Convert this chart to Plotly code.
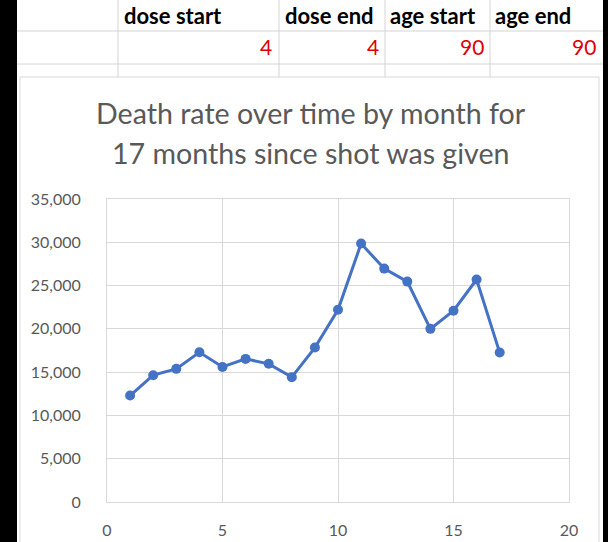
import plotly.graph_objects as go

# ---- data ----
months = list(range(1, 18))
deaths = [12300, 14650, 15380, 17300, 15600, 16530, 15960, 14420, 17840,
          22200, 29850, 26960, 25460, 20000, 22100, 25700, 17260]
header_labels = ["dose start", "dose end", "age start", "age end"]
header_values = ["4", "4", "90", "90"]
title_lines = ["Death rate over time by month for", "17 months since shot was given"]

# ---- layout geometry (pixels) ----
W_FIG, H_FIG = 608, 542
L, R, T, B = 107, 569, 199, 502
PW, PH = R - L, B - T


def px(x):
    return (x - L) / PW


def py(y):
    return (B - y) / PH


fig = go.Figure()
fig.add_trace(go.Scatter(
    x=months, y=deaths, mode="lines+markers",
    line=dict(color="#4472C4", width=3),
    marker=dict(color="#4472C4", size=10),
    showlegend=False, cliponaxis=False,
))

shapes = []
# white sheet area
shapes.append(dict(type="rect", xref="paper", yref="paper",
                   x0=px(17), x1=px(603), y0=py(545), y1=py(-3),
                   fillcolor="white", line=dict(width=0), layer="below"))
# table grid lines
for yy in [31, 64]:
    shapes.append(dict(type="line", xref="paper", yref="paper",
                       x0=px(17), x1=px(603), y0=py(yy), y1=py(yy),
                       line=dict(color="#d4d4d4", width=1), layer="below"))
for xx in [118, 279, 385, 490]:
    shapes.append(dict(type="line", xref="paper", yref="paper",
                       x0=px(xx), x1=px(xx), y0=py(-3), y1=py(77),
                       line=dict(color="#d4d4d4", width=1), layer="below"))
# chart border
shapes.append(dict(type="rect", xref="paper", yref="paper",
                   x0=px(20), x1=px(599), y0=py(548), y1=py(77),
                   fillcolor="white", line=dict(color="#d9d9d9", width=1), layer="below"))

annotations = []
col_left = [122, 283, 388, 493]
col_right = [274, 381, 486, 598]
for lab, xl in zip(header_labels, col_left):
    annotations.append(dict(text="<b>%s</b>" % lab, xref="paper", yref="paper",
                            x=px(xl), y=py(15), xanchor="left", yanchor="middle",
                            showarrow=False, font=dict(size=22, color="#000000", family="Lato")))
for val, xr in zip(header_values, col_right):
    annotations.append(dict(text=val, xref="paper", yref="paper",
                            x=px(xr), y=py(47), xanchor="right", yanchor="middle",
                            showarrow=False, font=dict(size=21, color="#e00000", family="Lato")))
for i, line in enumerate(title_lines):
    annotations.append(dict(text=line, xref="paper", yref="paper",
                            x=px(311), y=py(113 + 40 * i), xanchor="center", yanchor="middle",
                            showarrow=False, font=dict(size=28.6, color="#595959", family="Lato")))

fig.update_layout(
    width=W_FIG, height=H_FIG, autosize=False,
    margin=dict(l=L, r=W_FIG - R, t=T, b=H_FIG - B, pad=0, autoexpand=False),
    paper_bgcolor="black", plot_bgcolor="white",
    shapes=shapes, annotations=annotations,
    font=dict(family="Lato", color="#595959", size=16),
)
fig.update_xaxes(range=[0, 20], dtick=5, tick0=0, showgrid=True, gridcolor="#d9d9d9",
                 showline=True, linecolor="#d9d9d9", mirror=True, zeroline=False,
                 ticks="outside", ticklen=14, tickcolor="rgba(0,0,0,0)", automargin=False,
                 tickfont=dict(size=16, color="#595959"))
fig.update_yaxes(range=[0, 35000], dtick=5000, tick0=0, showgrid=True, gridcolor="#d9d9d9",
                 showline=True, linecolor="#d9d9d9", mirror=True, zeroline=False,
                 tickformat=",d", ticks="outside", ticklen=22, tickcolor="rgba(0,0,0,0)",
                 automargin=False, tickfont=dict(size=16, color="#595959"))

fig.write_html("out.html", config={"displayModeBar": False, "responsive": False},
               post_script="document.body.style.margin='0';document.body.style.overflow='hidden';")
